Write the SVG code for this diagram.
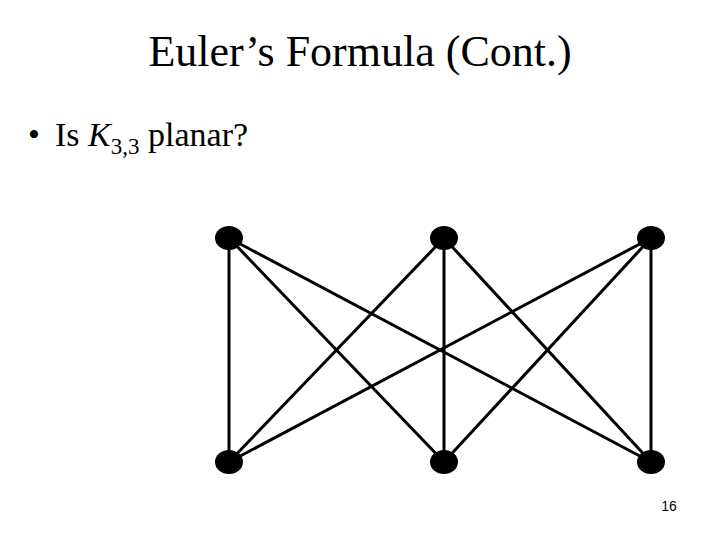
<svg xmlns="http://www.w3.org/2000/svg" width="720" height="540" viewBox="0 0 720 540">
<style>
.t{font-family:"Liberation Serif","Times New Roman",serif;fill:#000}
.e{stroke:#000;stroke-width:3;fill:none}
.n{fill:#000}
</style>
<rect width="720" height="540" fill="#fff"/>
<text class="t" x="360" y="66" font-size="44" text-anchor="middle">Euler’s Formula (Cont.)</text>
<text class="t" x="28" y="146" font-size="34">•</text>
<text class="t" x="55" y="146" font-size="34">Is <tspan font-style="italic">K</tspan><tspan font-size="23" dy="8">3,3</tspan><tspan dy="-8"> planar?</tspan></text>
<g id="edges">
<line class="e" x1="229" y1="238" x2="229" y2="462"/>
<line class="e" x1="229" y1="238" x2="444" y2="462"/>
<line class="e" x1="229" y1="238" x2="651" y2="462"/>
<line class="e" x1="444" y1="238" x2="229" y2="462"/>
<line class="e" x1="444" y1="238" x2="444" y2="462"/>
<line class="e" x1="444" y1="238" x2="651" y2="462"/>
<line class="e" x1="651" y1="238" x2="229" y2="462"/>
<line class="e" x1="651" y1="238" x2="444" y2="462"/>
<line class="e" x1="651" y1="238" x2="651" y2="462"/>
</g>
<g id="a1"><ellipse class="n" cx="229" cy="238" rx="14" ry="12"/></g>
<g id="a2"><ellipse class="n" cx="444" cy="238" rx="14" ry="12"/></g>
<g id="a3"><ellipse class="n" cx="651" cy="238" rx="14" ry="12"/></g>
<g id="b1"><ellipse class="n" cx="229" cy="462" rx="14" ry="12"/></g>
<g id="b2"><ellipse class="n" cx="444" cy="462" rx="14" ry="12"/></g>
<g id="b3"><ellipse class="n" cx="651" cy="462" rx="14" ry="12"/></g>
<text x="669" y="511" font-family="Liberation Sans, Arial, sans-serif" font-size="14" text-anchor="middle">16</text>
</svg>
